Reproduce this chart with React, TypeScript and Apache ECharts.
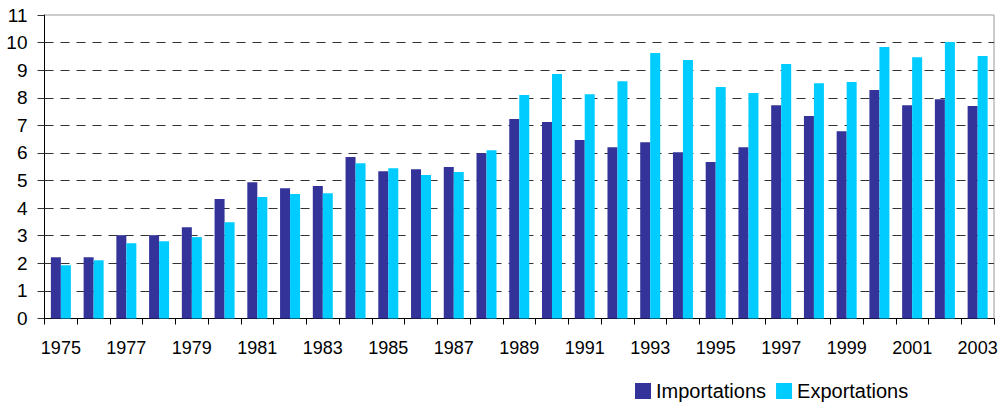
import React, { useEffect, useRef } from "react";
import * as echarts from "echarts";

const years = [
  "1975", "1976", "1977", "1978", "1979", "1980", "1981", "1982", "1983", "1984",
  "1985", "1986", "1987", "1988", "1989", "1990", "1991", "1992", "1993", "1994",
  "1995", "1996", "1997", "1998", "1999", "2000", "2001", "2002", "2003",
];
const importations = [
  2.22, 2.22, 3.02, 3.02, 3.31, 4.33, 4.94, 4.72, 4.8, 5.85,
  5.34, 5.41, 5.49, 5.99, 7.23, 7.12, 6.47, 6.21, 6.39, 6.03,
  5.67, 6.21, 7.73, 7.34, 6.79, 8.28, 7.73, 7.95, 7.7,
];
const exportations = [
  1.93, 2.11, 2.73, 2.8, 2.95, 3.49, 4.4, 4.51, 4.54, 5.63,
  5.45, 5.2, 5.31, 6.1, 8.1, 8.86, 8.13, 8.6, 9.62, 9.37,
  8.39, 8.17, 9.22, 8.53, 8.57, 9.84, 9.47, 10.02, 9.51,
];
const seriesNames = ["Importations", "Exportations"];

const FONT = "'Liberation Sans Narrow', 'Liberation Sans', Arial, sans-serif";

export default function App() {
  const ref = useRef<HTMLDivElement>(null);
  useEffect(() => {
    if (!ref.current) return;
    const chart = echarts.init(ref.current, null, { renderer: "svg" });
    const splitColors = Array.from({ length: 12 }, (_, i) =>
      i === 0 || i === 11 ? "transparent" : "#333333"
    );
    chart.setOption({
      animation: false,
      grid: {
        left: 44.5,
        right: 7,
        top: 15,
        bottom: 91.5,
        show: true,
        borderColor: "#999999",
        borderWidth: 1,
        backgroundColor: "transparent",
      },
      legend: {
        left: 630,
        top: 376,
        itemWidth: 16,
        itemHeight: 16,
        itemGap: 10,
        icon: "rect",
        textStyle: { fontFamily: FONT, fontSize: 20, color: "#000" },
        data: seriesNames,
      },
      xAxis: {
        type: "category",
        data: years,
        boundaryGap: true,
        axisLine: { lineStyle: { color: "#000", width: 1 } },
        axisTick: { show: true, interval: 0, length: 6, lineStyle: { color: "#000" } },
        axisLabel: {
          interval: 1,
          margin: 20,
          fontFamily: FONT,
          fontSize: 18,
          color: "#000",
        },
        splitLine: { show: false },
      },
      yAxis: {
        type: "value",
        min: 0,
        max: 11,
        interval: 1,
        axisLine: { show: true, lineStyle: { color: "#000", width: 1 } },
        axisTick: { show: true, length: 7, lineStyle: { color: "#333" } },
        axisLabel: {
          margin: 17,
          fontFamily: FONT,
          fontSize: 19,
          color: "#000",
        },
        splitLine: {
          show: true,
          lineStyle: { color: splitColors, type: [9, 7], width: 1 },
        },
      },
      series: [
        {
          name: seriesNames[0],
          type: "bar",
          data: importations,
          barWidth: 10,
          barGap: "0%",
          itemStyle: { color: "#333399" },
        },
        {
          name: seriesNames[1],
          type: "bar",
          data: exportations,
          barWidth: 10,
          barGap: "0%",
          itemStyle: { color: "#00CCFF" },
        },
      ],
    });
    return () => chart.dispose();
  }, []);
  return <div ref={ref} style={{ width: 1001, height: 410, position: "absolute", left: 0, top: 0 }} />;
}
